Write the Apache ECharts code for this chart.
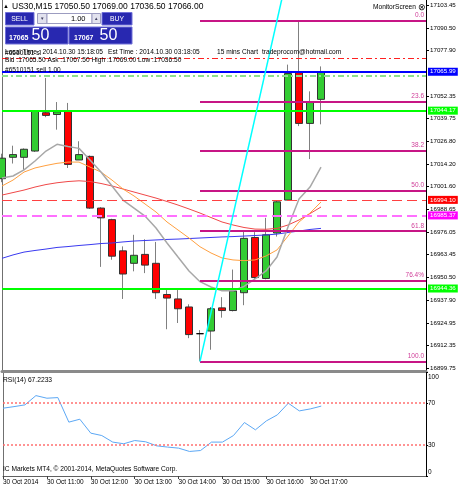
<!DOCTYPE html>
<html><head><meta charset="utf-8">
<script src="https://cdn.jsdelivr.net/npm/echarts@6/dist/echarts.min.js"></script>
<style>html,body{margin:0;padding:0;background:#fff;}#c{width:459px;height:488px;}</style>
</head><body><div id="c"></div>
<script>
// ---- data ----
const timeLabels = ['30 Oct 2014','30 Oct 11:00','30 Oct 12:00','30 Oct 13:00','30 Oct 14:00','30 Oct 15:00','30 Oct 16:00','30 Oct 17:00'];
const timeLabelIdx = [0,4,8,12,16,20,24,28];
const opens  = [17006.0,17018.0,17018.0,17021.5,17043.0,17042.0,17044.0,17016.5,17018.5,16989.5,16983.0,16965.5,16958.5,16963.5,16958.5,16941.0,16938.5,16934.0,16919.0,16920.5,16933.5,16932.0,16942.0,16973.0,16950.0,16975.5,16994.0,17065.5,17037.0,17050.5];
const closes = [17017.5,17019.5,17022.5,17044.0,17041.5,17043.5,17014.0,17019.5,16989.5,16984.0,16962.5,16952.5,16963.0,16957.5,16942.0,16939.0,16933.0,16918.5,16919.0,16933.0,16932.0,16943.0,16972.5,16950.5,16974.5,16993.0,17065.0,17037.0,17049.0,17066.0];
const lows   = [17004.0,17014.5,17011.0,17021.0,17040.5,17033.5,17012.0,17016.5,16989.0,16956.5,16960.5,16938.5,16954.0,16953.0,16938.5,16921.5,16925.0,16916.5,16903.5,16910.0,16928.0,16931.5,16935.0,16949.5,16949.5,16973.5,16994.0,17035.5,17017.0,17036.5];
const highs  = [17020.0,17024.5,17023.0,17044.5,17062.5,17049.0,17048.5,17027.0,17019.0,16990.0,16983.5,16968.0,16974.5,16972.0,16970.5,16943.5,16943.5,16935.5,16921.0,16934.0,16939.5,16955.0,16977.0,16976.0,16984.0,16993.5,17070.0,17094.5,17055.0,17069.0];
const maGray   = [17006.4,17007.5,17010.9,17015.9,17021.5,17025.3,17024.0,17023.0,17016.5,17009.7,17001.9,16994.0,16989.5,16985.0,16978.3,16969.9,16962.0,16954.2,16948.2,16945.2,16943.1,16943.1,16945.5,16949.7,16954.2,16962.0,16978.9,16994.6,17001.3,17012.5];
const maOrange = [17001.9,17005.2,17009.7,17012.0,17013.4,17014.6,17015.3,17015.3,17012.5,17009.7,17005.2,17000.2,16996.3,16991.8,16987.3,16981.7,16977.2,16972.7,16967.8,16964.3,16961.5,16960.4,16960.0,16960.4,16962.6,16966.0,16973.8,16981.7,16986.7,16992.9];
const maRed    = [16996.8,16998.2,16999.6,17001.3,17002.7,17003.7,17004.4,17004.8,17004.4,17003.3,17001.9,17000.2,16998.5,16996.8,16995.1,16993.2,16991.2,16989.0,16986.7,16984.2,16981.7,16980.0,16978.6,16977.7,16977.6,16978.1,16980.0,16982.8,16986.4,16990.1];
const maBlue   = [16961.3,16963.2,16964.8,16965.7,16966.5,16967.4,16967.9,16968.5,16969.0,16969.6,16969.9,16970.5,16971.0,16971.3,16971.6,16971.9,16972.1,16972.4,16972.7,16973.0,16973.3,16973.5,16973.8,16974.1,16974.4,16974.9,16975.8,16976.6,16977.5,16978.1];
const rsi = [65.2,66.7,68.4,77.3,74.8,75.4,51.8,54.6,41.2,38.9,32.6,31.0,34.1,32.9,29.0,27.8,26.8,23.6,24.5,32.6,32.6,38.9,51.4,44.4,53.0,58.8,70.0,62.6,64.5,67.2];
const priceTicks = [17103.45,17090.50,17077.90,17052.35,17039.75,17026.80,17014.20,17001.60,16988.65,16976.05,16963.45,16950.50,16937.90,16924.95,16912.35,16899.75];
const rsiTicks = [0,30,70,100];
const rsiLevels = [70,30];
const hLevelPrices = [17073.4,17065.99,17063.6,17044.17,16994.10,16985.37,16944.36];
const hLevelTags   = ['','17065.99','','17044.17','16994.10','16985.37','16944.36'];
const fibPrices = [17094.5,17049.4,17021.5,16999.0,16976.5,16948.6,16903.5];
const fibTags   = ['0.0','23.6','38.2','50.0','61.8','76.4%','100.0'];
const fibStartIndex = 18;
const trendIdx = [18,26];
const trendPrice = [16903.5,17122.1];

// ---- styles / layout ----
const FF = 'Liberation Sans';
const XMAX = 424/11;
const hStyles = [
  {color:'#FF2020', type:[6,3,2,3], width:1, bg:null},
  {color:'#0000FF', type:'solid', width:2, bg:'#0000FF', fg:'#FFFFFF'},
  {color:'#8FE08F', type:[6,3,2,3], width:2, bg:null},
  {color:'#00FF00', type:'solid', width:2, bg:'#00FF00', fg:'#FFFFFF'},
  {color:'#FF4040', type:[10,5], width:1, bg:'#FF0000', fg:'#FFFFFF'},
  {color:'#FF70FF', type:[10,5], width:2, bg:'#FF00FF', fg:'#FFFFFF'},
  {color:'#00FF00', type:'solid', width:2, bg:'#00FF00', fg:'#FFFFFF'}
];
const idx = opens.map((_, i) => i);

const levelMarks = hLevelPrices.map((v, i) => {
  const s = hStyles[i];
  return {
    yAxis: v,
    lineStyle: {color: s.color, type: s.type, width: s.width},
    label: s.bg ? {show: true, position: 'end', distance: 2, formatter: hLevelTags[i],
      backgroundColor: s.bg, color: s.fg, fontSize: 6.2, fontFamily: FF, padding: [1,2,1,2]} : {show: false}
  };
});
const fibMarks = fibPrices.map((v, i) => [
  {coord: [fibStartIndex, v], lineStyle: {color: '#C71585', width: 2, type: 'solid'},
   label: {show: true, position: 'insideEndTop', distance: 2, formatter: fibTags[i], color: '#D0409A', fontSize: 6.5, fontFamily: FF}},
  {coord: [XMAX, v]}
]);

const txt = (x, y, text, size, color, extra, weight) => ({
  type: 'text', x: x, y: y, silent: true, z: 100,
  style: Object.assign({text: text, fill: color || '#000', font: (weight ? weight + ' ' : '') + size + 'px "' + FF + '"',
    align: 'left', verticalAlign: 'middle', textAlign: 'left', textVerticalAlign: 'middle'}, extra || {})
});
const rect = (x, y, w, h, fill, stroke) => ({type: 'rect', silent: true, z: 99,
  shape: {x: x, y: y, width: w, height: h}, style: {fill: fill, stroke: stroke || null, lineWidth: 1}});

const BLUE = '#2828B0', BLUEB = '#7070D8';
const CEN = {align: 'center', textAlign: 'center'};
const graphics = [
  txt(3, 6, '▲', 6, '#000'),
  txt(12, 6.5, 'US30,M15 17050.50 17069.00 17036.50 17066.00', 8.5, '#000'),
  rect(5.5, 12.5, 28.5, 12.5, BLUE, BLUEB),
  txt(19.5, 18.8, 'SELL', 6.8, '#FFFFFF', CEN),
  rect(37.5, 13.5, 9.5, 10, '#E2E2EE', '#9C9CC0'),
  txt(42.2, 18.5, '▼', 4.5, '#404060', CEN),
  rect(47, 13.5, 45, 10, '#FFFFFF', '#9C9CC0'),
  txt(85.5, 18.7, '1.00', 7.5, '#000', {align: 'right', textAlign: 'right'}),
  rect(92, 13.5, 8.5, 10, '#E2E2EE', '#9C9CC0'),
  txt(96.3, 18.5, '▲', 4.5, '#404060', CEN),
  rect(102, 12.5, 30, 12.5, BLUE, BLUEB),
  txt(117, 18.8, 'BUY', 6.8, '#FFFFFF', CEN),
  rect(5.5, 27, 62.5, 17, BLUE, BLUEB),
  txt(9, 38, '17065', 7, '#FFFFFF', null, 'bold'),
  txt(31.5, 35.8, '50', 16, '#FFFFFF'),
  rect(69, 27, 63, 17, BLUE, BLUEB),
  txt(74, 38, '17067', 7, '#FFFFFF', null, 'bold'),
  txt(99.5, 35.8, '50', 16, '#FFFFFF'),
  txt(5, 52.5, 'Local Time : 2014.10.30 15:18:05', 6.6, '#000'),
  txt(5, 53.5, '#6510151 sl', 6.6, '#000'),
  txt(108, 52.5, 'Est Time : 2014.10.30 03:18:05', 6.6, '#000'),
  txt(217, 52.5, '15 mins Chart', 6.6, '#000'),
  txt(262, 52.5, 'tradeprocom@hotmail.com', 6.6, '#000'),
  txt(5, 60.5, 'Bid :17065.50 Ask :17067.50 High :17069.00 Low :17036.50', 6.6, '#000'),
  txt(5, 70, '#6510151 sell 1.00', 6.6, '#000'),
  txt(373, 7.5, 'MonitorScreen', 6.6, '#000'),
  txt(418, 7.5, '⊗', 9, '#000'),
  txt(3, 380, 'RSI(14) 67.2233', 6.7, '#000'),
  txt(3, 469.5, 'IC Markets MT4, © 2001-2014, MetaQuotes Software Corp.', 6.6, '#000')
];

const option = {
  animation: false,
  backgroundColor: '#FFFFFF',
  textStyle: {fontFamily: FF},
  grid: [
    {left: 2, top: 0, width: 424, height: 371},
    {left: 2, top: 372, width: 424, height: 104}
  ],
  xAxis: [
    {type: 'value', gridIndex: 0, min: 0, max: XMAX,
      axisLine: {show: true, onZero: false, lineStyle: {color: '#8A8A8A', width: 3}},
      axisTick: {show: false}, axisLabel: {show: false}, splitLine: {show: false}},
    {type: 'value', gridIndex: 1, min: 0, max: XMAX,
      axisLine: {show: true, onZero: false, lineStyle: {color: '#606060', width: 1}},
      axisTick: {show: true, length: 3, customValues: timeLabelIdx, lineStyle: {color: '#404040'}},
      axisLabel: {show: true, customValues: timeLabelIdx, align: 'left', margin: 3, fontSize: 6.5, color: '#000',
        formatter: v => timeLabels[timeLabelIdx.indexOf(Math.round(v))] || ''},
      splitLine: {show: false}}
  ],
  yAxis: [
    {type: 'value', gridIndex: 0, position: 'right', min: 16898.07, max: 17106.26,
      axisLine: {show: true, onZero: false, lineStyle: {color: '#000', width: 1}},
      axisTick: {show: true, length: 3, customValues: priceTicks, lineStyle: {color: '#000'}},
      axisLabel: {show: true, customValues: priceTicks, margin: 4, fontSize: 6.2, color: '#000',
        formatter: v => v.toFixed(2)},
      splitLine: {show: false}},
    {type: 'value', gridIndex: 0, position: 'left', min: 0, max: 1,
      axisLine: {show: true, onZero: false, lineStyle: {color: '#707070', width: 1}},
      axisTick: {show: false}, axisLabel: {show: false}, splitLine: {show: false}},
    {type: 'value', gridIndex: 1, position: 'right', min: 0, max: 100,
      axisLine: {show: true, onZero: false, lineStyle: {color: '#000', width: 1}},
      axisTick: {show: true, length: 2, customValues: rsiTicks, lineStyle: {color: '#000'}},
      axisLabel: {show: true, customValues: rsiTicks, margin: 2, fontSize: 6.5, color: '#000',
        formatter: v => v === 100 ? '{t|100}' : (v === 0 ? '{b|0}' : String(v)),
        rich: {t: {fontSize: 6.5, padding: [10, 0, 0, 0]}, b: {fontSize: 6.5, padding: [0, 0, 8, 0]}}},
      splitLine: {show: false}},
    {type: 'value', gridIndex: 1, position: 'left', min: 0, max: 1,
      axisLine: {show: true, onZero: false, lineStyle: {color: '#707070', width: 1}},
      axisTick: {show: false}, axisLabel: {show: false}, splitLine: {show: false}}
  ],
  series: [
    {type: 'candlestick', name: 'wicks', xAxisIndex: 0, yAxisIndex: 0, barWidth: 1, z: 2,
      data: idx.map(i => [i, opens[i], closes[i], lows[i], highs[i]]),
      itemStyle: {color: '#808080', color0: '#808080', borderColor: '#808080', borderColor0: '#808080', borderColorDoji: '#808080', borderWidth: 1}},
    {type: 'candlestick', name: 'bodies', xAxisIndex: 0, yAxisIndex: 0, barWidth: 7, z: 3,
      data: idx.map(i => [i, opens[i], closes[i], Math.min(opens[i], closes[i]), Math.max(opens[i], closes[i])]),
      itemStyle: {color: '#33CC33', color0: '#FF0000', borderColor: '#333333', borderColor0: '#333333', borderColorDoji: '#000000', borderWidth: 1}},
    {type: 'line', name: 'blue', data: idx.map(i => [i, maBlue[i]]), showSymbol: false, z: 4, lineStyle: {color: '#3A3AF0', width: 1}},
    {type: 'line', name: 'red', data: idx.map(i => [i, maRed[i]]), showSymbol: false, z: 4, lineStyle: {color: '#F04848', width: 1}},
    {type: 'line', name: 'orange', data: idx.map(i => [i, maOrange[i]]), showSymbol: false, z: 4, lineStyle: {color: '#FFA040', width: 1}},
    {type: 'line', name: 'gray', data: idx.map(i => [i, maGray[i]]), showSymbol: false, z: 4, lineStyle: {color: '#A8A8A8', width: 1.5}},
    {type: 'line', name: 'levels', data: [], z: 5, silent: true,
      markLine: {symbol: 'none', silent: true, animation: false, data: levelMarks}},
    {type: 'line', name: 'fib', data: [], z: 6, silent: true,
      markLine: {symbol: 'none', silent: true, animation: false, data: fibMarks}},
    {type: 'line', name: 'trend', data: trendIdx.map((x, i) => [x, trendPrice[i]]), showSymbol: false, z: 7, clip: true,
      lineStyle: {color: '#00FFFF', width: 1.5}},
    {type: 'line', name: 'rsi', xAxisIndex: 1, yAxisIndex: 2, data: idx.map(i => [i, rsi[i]]), showSymbol: false, z: 4,
      lineStyle: {color: '#5CA8F5', width: 1},
      markLine: {symbol: 'none', silent: true, animation: false, label: {show: false},
        data: rsiLevels.map(v => ({yAxis: v, lineStyle: {color: '#FF7070', type: [2, 2], width: 1.5}}))}}
  ],
  graphic: {elements: graphics}
};
const chart = echarts.init(document.getElementById('c'), null, {renderer: 'canvas', width: 459, height: 488});
chart.setOption(option);
</script></body></html>
